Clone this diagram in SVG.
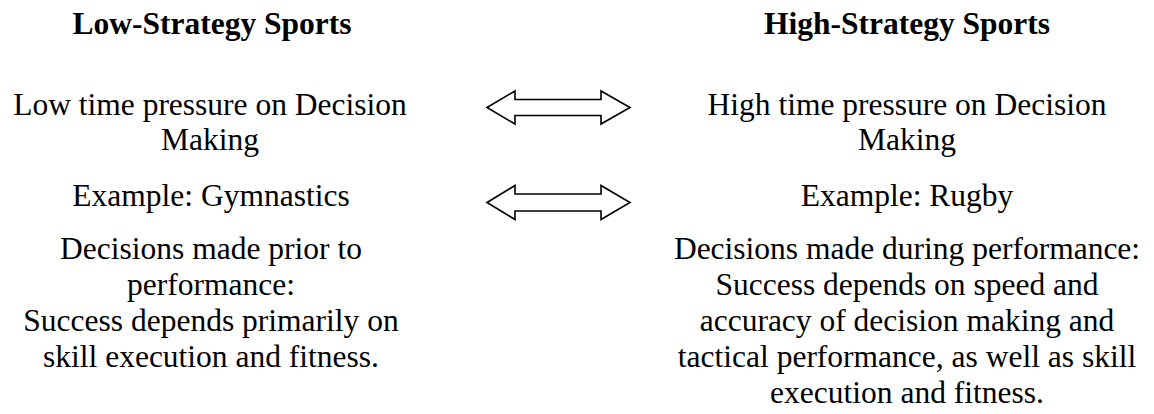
<svg xmlns="http://www.w3.org/2000/svg" width="1154" height="414" viewBox="0 0 1154 414">
<defs>
<style>
.t{font-family:"Liberation Serif","Times New Roman",serif;font-size:31.5px;fill:#000;text-anchor:middle}
.h{font-weight:bold}
.arr{fill:#fff;stroke:#000;stroke-width:1.6;stroke-linejoin:miter}
</style>
</defs>
<rect width="1154" height="414" fill="#fff"/>
<g id="low-header"><text class="t h" x="212" y="34">Low-Strategy Sports</text></g>
<g id="high-header"><text class="t h" x="907" y="34">High-Strategy Sports</text></g>
<g id="low-pressure"><text class="t" x="210" y="115">Low time pressure on Decision</text><text class="t" x="210" y="150">Making</text></g>
<g id="high-pressure"><text class="t" x="907" y="115">High time pressure on Decision</text><text class="t" x="907" y="150">Making</text></g>
<g id="low-example"><text class="t" x="211" y="206">Example: Gymnastics</text></g>
<g id="high-example"><text class="t" x="907" y="206">Example: Rugby</text></g>
<g id="low-decisions">
<text class="t" x="211" y="259">Decisions made prior to</text>
<text class="t" x="211" y="295">performance:</text>
<text class="t" x="211" y="331">Success depends primarily on</text>
<text class="t" x="211" y="367">skill execution and fitness.</text>
</g>
<g id="high-decisions">
<text class="t" x="907" y="259">Decisions made during performance:</text>
<text class="t" x="907" y="295">Success depends on speed and</text>
<text class="t" x="907" y="331">accuracy of decision making and</text>
<text class="t" x="907" y="367">tactical performance, as well as skill</text>
<text class="t" x="907" y="403">execution and fitness.</text>
</g>
<g id="connectors">
<polygon class="arr" points="487,107.5 515,91 515,99.5 601,99.5 601,91 630,107.5 601,124 601,115.5 515,115.5 515,124"/>
<polygon class="arr" points="487,202.5 515,185.5 515,194 601,194 601,185.5 630,202.5 601,219.5 601,211 515,211 515,219.5"/>
</g>
</svg>
